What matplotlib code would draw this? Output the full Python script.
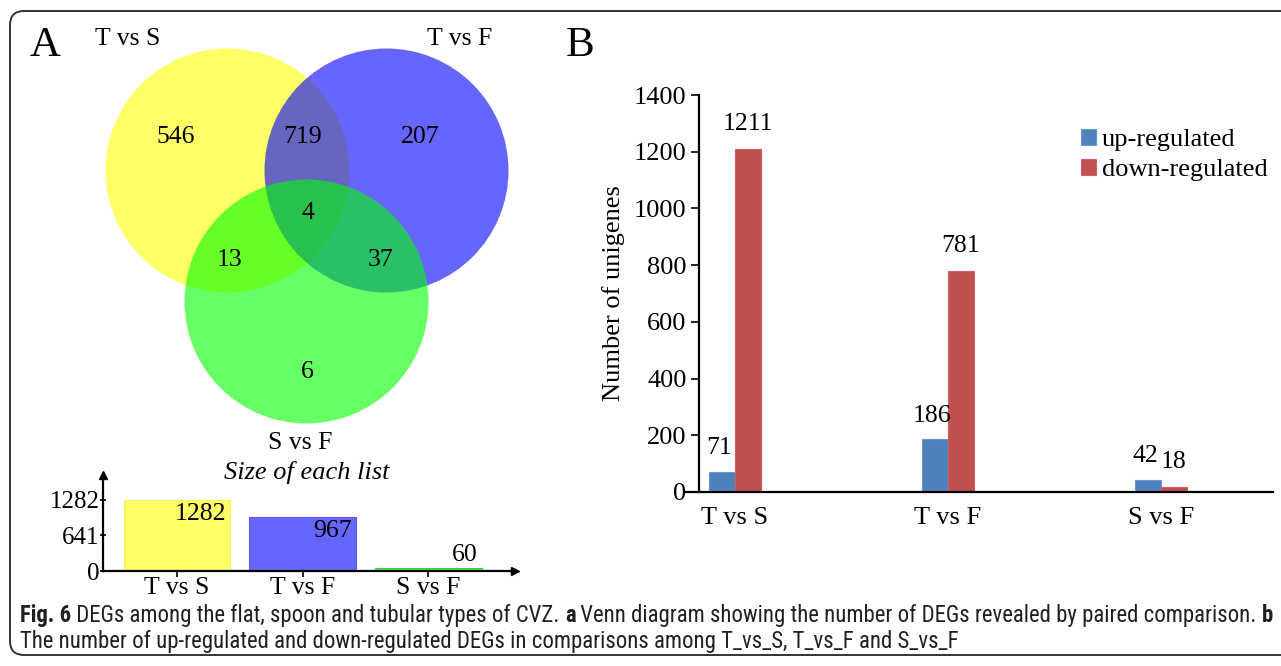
import matplotlib
matplotlib.use("Agg")
import matplotlib.pyplot as plt
import matplotlib.font_manager as fm
from matplotlib.patches import Circle, FancyBboxPatch

W, H = 1281, 666

# Venn counts for the three paired comparisons
sets = ["T vs S", "T vs F", "S vs F"]
venn_regions = ["TS", "TS&TF", "TF", "all", "TS&SF", "TF&SF", "SF"]
venn_counts = [546, 719, 207, 4, 13, 37, 6]
list_sizes = [1282, 967, 60]
list_ticks = [0, 641, 1282]

# DEGs per comparison
comparisons = ["T vs S", "T vs F", "S vs F"]
up_regulated = [71, 186, 42]
down_regulated = [1211, 781, 18]

plt.rcParams["font.family"] = ["Liberation Serif", "DejaVu Serif"]
plt.rcParams["font.size"] = 18

names = {f.name for f in fm.fontManager.ttflist}
cap_font = next((n for n in ["Liberation Sans Narrow", "Roboto Condensed",
                             "Open Sans Condensed", "Noto Sans"] if n in names),
                "DejaVu Sans")


def frac(left, top, right, bottom):
    # pixel box -> figure fraction rect
    return [left / W, 1 - bottom / H, (right - left) / W, (bottom - top) / H]


fig = plt.figure(figsize=(W / 100, H / 100), dpi=100)
bg = fig.add_axes([0, 0, 1, 1])
bg.set_xlim(0, W)
bg.set_ylim(H, 0)
bg.axis("off")

# outer frame
bg.add_patch(FancyBboxPatch((10, 11), 1300, 644, boxstyle="round,pad=0,rounding_size=14",
                            fc="none", ec="#333333", lw=1.4, clip_on=False))

# ---- A: venn diagram ----
circle_xy = [(227.5, 170.5), (386.5, 170.5), (306.5, 301.5)]
circle_colors = ["#FFFF00", "#0000FF", "#00FF00"]
for (cx, cy), c in zip(circle_xy, circle_colors):
    bg.add_patch(Circle((cx, cy), 122, fc=c, ec="none", alpha=0.6))

set_label_xy = [(128, 39), (460, 39), (300, 443)]
for s, (x, y) in zip(sets, set_label_xy):
    bg.text(x, y, s, ha="center", va="center", fontsize=18.5)

region_xy = {"TS": (176, 137), "TS&TF": (303, 137), "TF": (420, 137), "all": (308, 213),
             "TS&SF": (230, 260), "TF&SF": (381, 260), "SF": (307, 372)}
for reg, n in zip(venn_regions, venn_counts):
    x, y = region_xy[reg]
    bg.text(x, y, str(n), ha="center", va="center", fontsize=18.5)

bg.text(45, 46, "A", ha="center", va="center", fontsize=31)
bg.text(580, 46, "B", ha="center", va="center", fontsize=31)
bg.text(307, 473, "Size of each list", ha="center", va="center", fontsize=19, style="italic")

# list size bars under the venn
ax1 = fig.add_axes(frac(103, 475, 515, 571))
ax1.bar(range(3), list_sizes, width=0.85, color=["#FFFF66", "#6666FF", "#44F044"],
        edgecolor=["#F5F55A", "#5A5AF0", "#33DD33"], lw=0.8)
ax1.set_xlim(-0.59, 2.69)
ax1.set_ylim(0, 1733)
for sp in ["top", "right"]:
    ax1.spines[sp].set_visible(False)
for sp in ["left", "bottom"]:
    ax1.spines[sp].set_linewidth(1.6)
ax1.set_yticks(list_ticks, [str(t) for t in list_ticks])
ax1.set_xticks(range(3), sets)
ax1.tick_params(axis="y", direction="inout", length=5, width=1.2, pad=0, labelsize=18)
ax1.tick_params(axis="x", direction="out", length=4, width=1.2, pad=0, labelsize=18.5)
ax1.plot(0, 1, "^k", ms=6, transform=ax1.transAxes, clip_on=False)
ax1.plot(1, 0, ">k", ms=6, transform=ax1.transAxes, clip_on=False)
ax1.patch.set_alpha(0)
for i, v in enumerate(list_sizes):
    dy = -10 if v > 0.2 * max(list_sizes) else 9
    ax1.annotate(str(v), (i + 0.425, v), xytext=(-3, dy), textcoords="offset points",
                 ha="right", va="center", fontsize=18.5)

# ---- B: up/down regulated bars ----
ax2 = fig.add_axes(frac(699, 95, 1273, 492))
x = range(len(comparisons))
w = 0.12
b_up = ax2.bar([i - w / 2 for i in x], up_regulated, width=w, color="#4F81BD",
               edgecolor="#6A96CC", lw=0.8, label="up-regulated")
b_down = ax2.bar([i + w / 2 for i in x], down_regulated, width=w, color="#C0504D",
                 edgecolor="#D06060", lw=0.8, label="down-regulated")
for i in x:
    ax2.annotate(str(up_regulated[i]), (i - w / 2, up_regulated[i]), xytext=(-2, 17),
                 textcoords="offset points", ha="center", va="center", fontsize=18.5)
    ax2.annotate(str(down_regulated[i]), (i + w / 2, down_regulated[i]), xytext=(0, 18),
                 textcoords="offset points", ha="center", va="center", fontsize=18.5)
ax2.set_xlim(-36 / 213, 2 + 112 / 213)
ax2.set_ylim(0, 1400)
ax2.set_yticks(range(0, 1401, 200))
ax2.set_xticks(list(x), comparisons)
for sp in ["top", "right"]:
    ax2.spines[sp].set_visible(False)
for sp in ["left", "bottom"]:
    ax2.spines[sp].set_linewidth(1.6)
ax2.spines["bottom"].set_bounds(-0.06 - 36 / 213, 2 + 112 / 213)
ax2.tick_params(axis="y", direction="out", length=6, width=1.2, pad=3, labelsize=19)
ax2.tick_params(axis="x", length=0, pad=11, labelsize=19)
ax2.set_ylabel("Number of unigenes", fontsize=19, labelpad=6)
ax2.patch.set_alpha(0)
ax2.legend(handles=[b_up, b_down], loc="upper left", frameon=False,
           bbox_to_anchor=(1081 / W, 1 - 129 / H), bbox_transform=fig.transFigure,
           handlelength=0.55, handleheight=0.55, handletextpad=0.25,
           labelspacing=0.28, borderpad=0, borderaxespad=0, fontsize=19)

# ---- caption ----
line1 = [("Fig. 6", "bold"), (" DEGs among the flat, spoon and tubular types of CVZ. ", "normal"),
         ("a", "bold"), (" Venn diagram showing the number of DEGs revealed by paired comparison. ", "normal"),
         ("b", "bold")]
line2 = [("The number of up-regulated and down-regulated DEGs in comparisons among "
          "T_vs_S, T_vs_F and S_vs_F", "normal")]


def caption_line(pieces, x, y):
    out = []
    for s, weight in pieces:
        kw = dict(fontsize=12, fontweight=weight, family=cap_font, color="#231F20",
                  ha="left", va="bottom")
        if not out:
            t = bg.text(x, y, s, **kw)
        else:
            t = bg.annotate(s, xy=(1, 0), xycoords=out[-1], **kw)
        out.append(t)
    return out


cap1 = caption_line(line1, 20, 627)
cap2 = caption_line(line2, 20, 653)
fig.canvas.draw()
r = fig.canvas.get_renderer()
width = cap1[-1].get_window_extent(r).x1 - 20
scale = 1248 / width
for t in cap1 + cap2:
    t.set_fontsize(12 * scale)

fig.savefig("out.png", dpi=100)
